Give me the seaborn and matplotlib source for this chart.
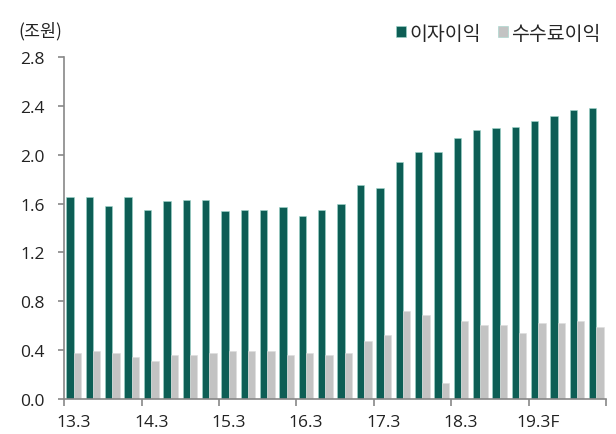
import pandas as pd
import matplotlib.pyplot as plt
import seaborn as sns

# Quarterly data (trillion won), 13.3 ~ 20.2F
quarters = ['13.3', '13.4', '14.1', '14.2', '14.3', '14.4', '15.1', '15.2',
            '15.3', '15.4', '16.1', '16.2', '16.3', '16.4', '17.1', '17.2',
            '17.3', '17.4', '18.1', '18.2', '18.3', '18.4', '19.1', '19.2',
            '19.3F', '19.4F', '20.1F', '20.2F']
interest = [1.65, 1.65, 1.58, 1.65, 1.55, 1.62, 1.63, 1.63,
            1.54, 1.55, 1.55, 1.57, 1.50, 1.55, 1.60, 1.75,
            1.73, 1.94, 2.02, 2.02, 2.14, 2.20, 2.22, 2.23,
            2.28, 2.32, 2.37, 2.38]
fee = [0.38, 0.39, 0.38, 0.345, 0.31, 0.36, 0.36, 0.38,
       0.39, 0.39, 0.39, 0.36, 0.38, 0.36, 0.375, 0.475,
       0.52, 0.72, 0.69, 0.13, 0.64, 0.605, 0.605, 0.54,
       0.62, 0.62, 0.64, 0.59]
series_names = ['이자이익', '수수료이익']
colors = ['#006B5F', '#C3C3C3']
shown_labels = ['13.3', '14.3', '15.3', '16.3', '17.3', '18.3', '19.3F']


def draw_bar_plot():
    df = pd.DataFrame({'quarter': quarters * 2,
                       'value': interest + fee,
                       'series': [series_names[0]] * len(quarters) + [series_names[1]] * len(quarters)})

    sns.set_style('white')
    plt.rcParams['font.family'] = ['Open Sans', 'Noto Sans CJK KR', 'DejaVu Sans']
    korean = ['Noto Sans CJK KR', 'DejaVu Sans']

    fig = plt.figure(figsize=(6.16, 4.35), dpi=100)
    ax = fig.add_axes([0.104, 0.0805, 0.88, 0.786])

    sns.barplot(data=df, x='quarter', y='value', hue='series', order=quarters,
                hue_order=series_names, palette=colors, width=0.76, gap=0,
                edgecolor='#9fd6cc', linewidth=0.4, ax=ax)
    for bar in ax.containers[1]:
        bar.set_edgecolor('#dddddd')

    ax.set_xlim(-0.5, len(quarters) - 0.5)
    ax.set_ylim(0, 2.8)
    ax.set_yticks([0.4 * i for i in range(8)])
    ax.set_yticklabels([f'{0.4 * i:.1f}' for i in range(8)], fontsize=12.5, color='#222222')

    ax.set_xticks([quarters.index(q) for q in shown_labels])
    ax.set_xticklabels(shown_labels, fontsize=12.5, color='#222222')
    ax.tick_params(axis='x', which='major', length=0, pad=11)
    ax.set_xticks([i - 0.5 for i in range(0, len(quarters) + 1, 4)], minor=True)
    ax.tick_params(axis='x', which='minor', length=5, color='#888888', width=1.2, direction='out')
    ax.tick_params(axis='y', length=4, color='#888888', width=1.2, direction='out', pad=10)
    ax.xaxis.set_ticks_position('bottom')
    ax.yaxis.set_ticks_position('left')

    ax.set_xlabel('')
    ax.set_ylabel('')
    for side in ['top', 'right']:
        ax.spines[side].set_visible(False)
    for side in ['left', 'bottom']:
        ax.spines[side].set_color('#888888')
        ax.spines[side].set_linewidth(1.2)

    handles, labels = ax.get_legend_handles_labels()
    ax.legend_.remove()
    fig.legend(handles, labels, loc='center right', bbox_to_anchor=(600 / 616, 1 - 34 / 435),
               ncol=2, frameon=False, prop={'family': korean, 'size': 14},
               handlelength=0.5, handleheight=0.5, handletextpad=0.15,
               columnspacing=0.9, borderaxespad=0, borderpad=0)
    fig.text(18 / 616, 1 - 31 / 435, '(조원)', fontsize=12.5, color='#222222',
             family=korean, va='center')

    fig.savefig('out.png', dpi=100)
    return fig


if __name__ == "__main__":
    draw_bar_plot()
